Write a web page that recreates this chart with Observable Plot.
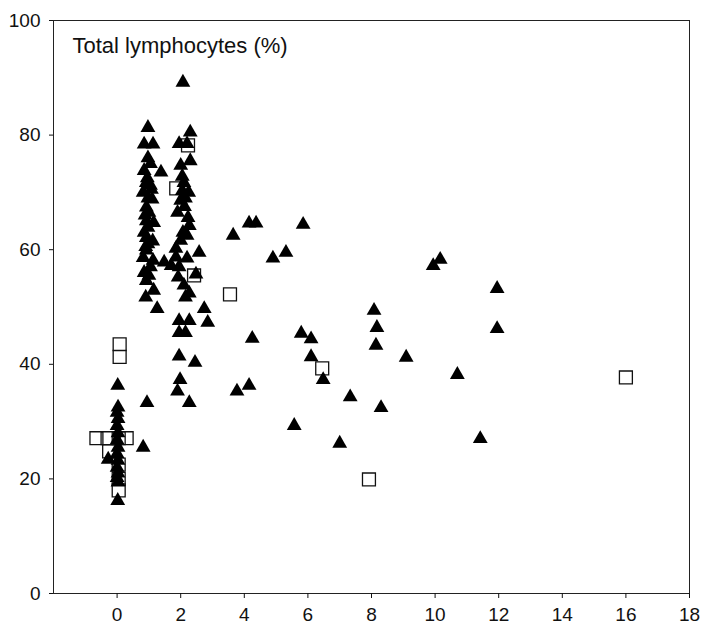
<!DOCTYPE html>
<html>
<head>
<meta charset="utf-8">
<script src="https://cdn.jsdelivr.net/npm/d3@7"></script>
<script src="https://cdn.jsdelivr.net/npm/@observablehq/plot@0.6"></script>
<style>
  html, body { margin: 0; padding: 0; background: #fff; }
  #chart svg { display: block; }
</style>
</head>
<body>
<div id="chart"></div>
<script>
// Chart title (drawn inside the frame, top-left)
const title = "Total lymphocytes (%)";

// Axis ticks
const xTicks = [0, 2, 4, 6, 8, 10, 12, 14, 16, 18];
const yTicks = [0, 20, 40, 60, 80, 100];

// Filled triangles: x values
const triX = [
  // column at 0
  0.02, 0.03, 0.0, 0.03, 0.0, 0.03, 0.0, 0.03, 0.0, 0.03, 0.0, 0.03, 0.0, 0.03, 0.02, -0.28, 0.82, 0.94,
  // column at 1
  0.97, 0.85, 1.13, 0.97, 0.85, 1.38, 0.92, 1.05, 0.82, 0.97, 1.1, 0.92, 1.0, 0.92, 1.15, 0.97, 0.92,
  0.97, 0.92, 0.82, 1.13, 1.48, 0.85, 0.92, 1.15, 0.9, 1.26, 1.05, 0.9, 1.05, 1.0, 0.85, 1.08, 0.95,
  1.12, 0.88, 1.7,
  // column at 2
  2.07, 2.3, 1.95, 2.2, 2.3, 2.0, 2.1, 2.05, 2.25, 2.15, 2.0, 1.9, 2.23, 2.27, 2.07, 2.2, 2.0, 1.85,
  2.58, 1.85, 2.2, 1.95, 2.48, 1.92, 2.1, 2.27, 2.15, 2.74, 2.85, 1.95, 2.27, 1.95, 2.15, 1.95, 2.45,
  1.98, 1.9, 2.27, 2.12, 2.05,
  // scattered
  3.65, 4.15, 4.37, 5.85, 4.9, 5.31, 9.94, 10.16, 8.08, 8.17, 8.14, 9.09, 5.79, 6.1, 6.1, 6.48, 4.25,
  4.15, 3.77, 7.33, 8.3, 5.57, 7.0, 11.95, 11.95, 10.7, 11.42
];
// Filled triangles: y values (%)
const triY = [
  36.3, 32.5, 31.6, 30.5, 29.3, 28.0, 26.8, 25.5, 24.4, 23.2, 22.0, 21.0, 20.2, 19.4, 16.2, 23.4, 25.5, 33.3,
  81.3, 78.4, 78.4, 76.0, 73.8, 73.5, 71.7, 71.2, 70.0, 69.0, 68.8, 67.4, 66.5, 65.0, 64.7, 63.9, 62.1,
  61.0, 59.9, 58.6, 58.1, 57.8, 56.0, 54.6, 52.9, 51.7, 49.7, 75.0, 60.5, 57.0, 55.5, 63.0, 70.5, 72.5,
  61.5, 66.0, 57.2,
  89.2, 80.5, 78.5, 78.5, 75.5, 74.7, 71.7, 70.3, 70.0, 69.0, 68.6, 66.5, 65.6, 64.2, 63.0, 62.5, 61.6, 60.2,
  59.5, 58.7, 58.5, 57.0, 55.7, 55.2, 53.8, 52.4, 51.7, 49.7, 47.3, 47.6, 47.6, 45.5, 45.5, 41.4, 40.3,
  37.3, 35.3, 33.3, 67.5, 72.8,
  62.5, 64.6, 64.6, 64.4, 58.5, 59.5, 57.2, 58.3, 49.4, 46.4, 43.3, 41.2, 45.4, 44.4, 41.3, 37.3, 44.5,
  36.3, 35.3, 34.3, 32.4, 29.3, 26.2, 53.2, 46.2, 38.2, 27.0
];

// Open squares: x values
const sqX = [0.08, 0.08, -0.65, -0.3, 0.05, 0.3, -0.25, 0.05, 0.05, 0.05, 2.23, 1.86, 2.42, 3.55, 6.45, 7.92, 16.0];
// Open squares: y values (%)
const sqY = [43.5, 41.3, 27.1, 27.1, 27.1, 27.1, 24.8, 22.5, 20.0, 18.0, 78.2, 70.7, 55.5, 52.2, 39.3, 19.9, 37.7];

const triangles = triX.map((x, i) => ({x, y: triY[i]}));
const squares = sqX.map((x, i) => ({x, y: sqY[i]}));

const font = "'Liberation Sans', Arial, Helvetica, sans-serif";

const chart = Plot.plot({
  width: 711,
  height: 633,
  marginLeft: 53,
  marginRight: 22,
  marginTop: 20,
  marginBottom: 40,
  style: {fontFamily: font, fontSize: "19px", color: "#111", background: "#fff"},
  x: {domain: [-2, 18]},
  y: {domain: [0, 100]},
  marks: [
    Plot.frame({stroke: "#222", strokeWidth: 1}),
    Plot.axisX({ticks: xTicks, tickSize: 5, tickPadding: 9, label: null, fontSize: 19}),
    Plot.axisY({ticks: yTicks, tickSize: 4, tickPadding: 9, label: null, fontSize: 19}),
    Plot.dot(squares, {x: "x", y: "y", symbol: "square", r: 7.3, fill: "none", stroke: "#111", strokeWidth: 1.3}),
    Plot.dot(triangles, {x: "x", y: "y", symbol: "triangle", r: 5.5, fill: "#000", stroke: "none"}),
    Plot.text([title], {
      frameAnchor: "top-left", textAnchor: "start", lineAnchor: "top",
      dx: 19, dy: 17, fontSize: 22, fill: "#111"
    })
  ]
});

document.getElementById("chart").appendChild(chart);
</script>
</body>
</html>
